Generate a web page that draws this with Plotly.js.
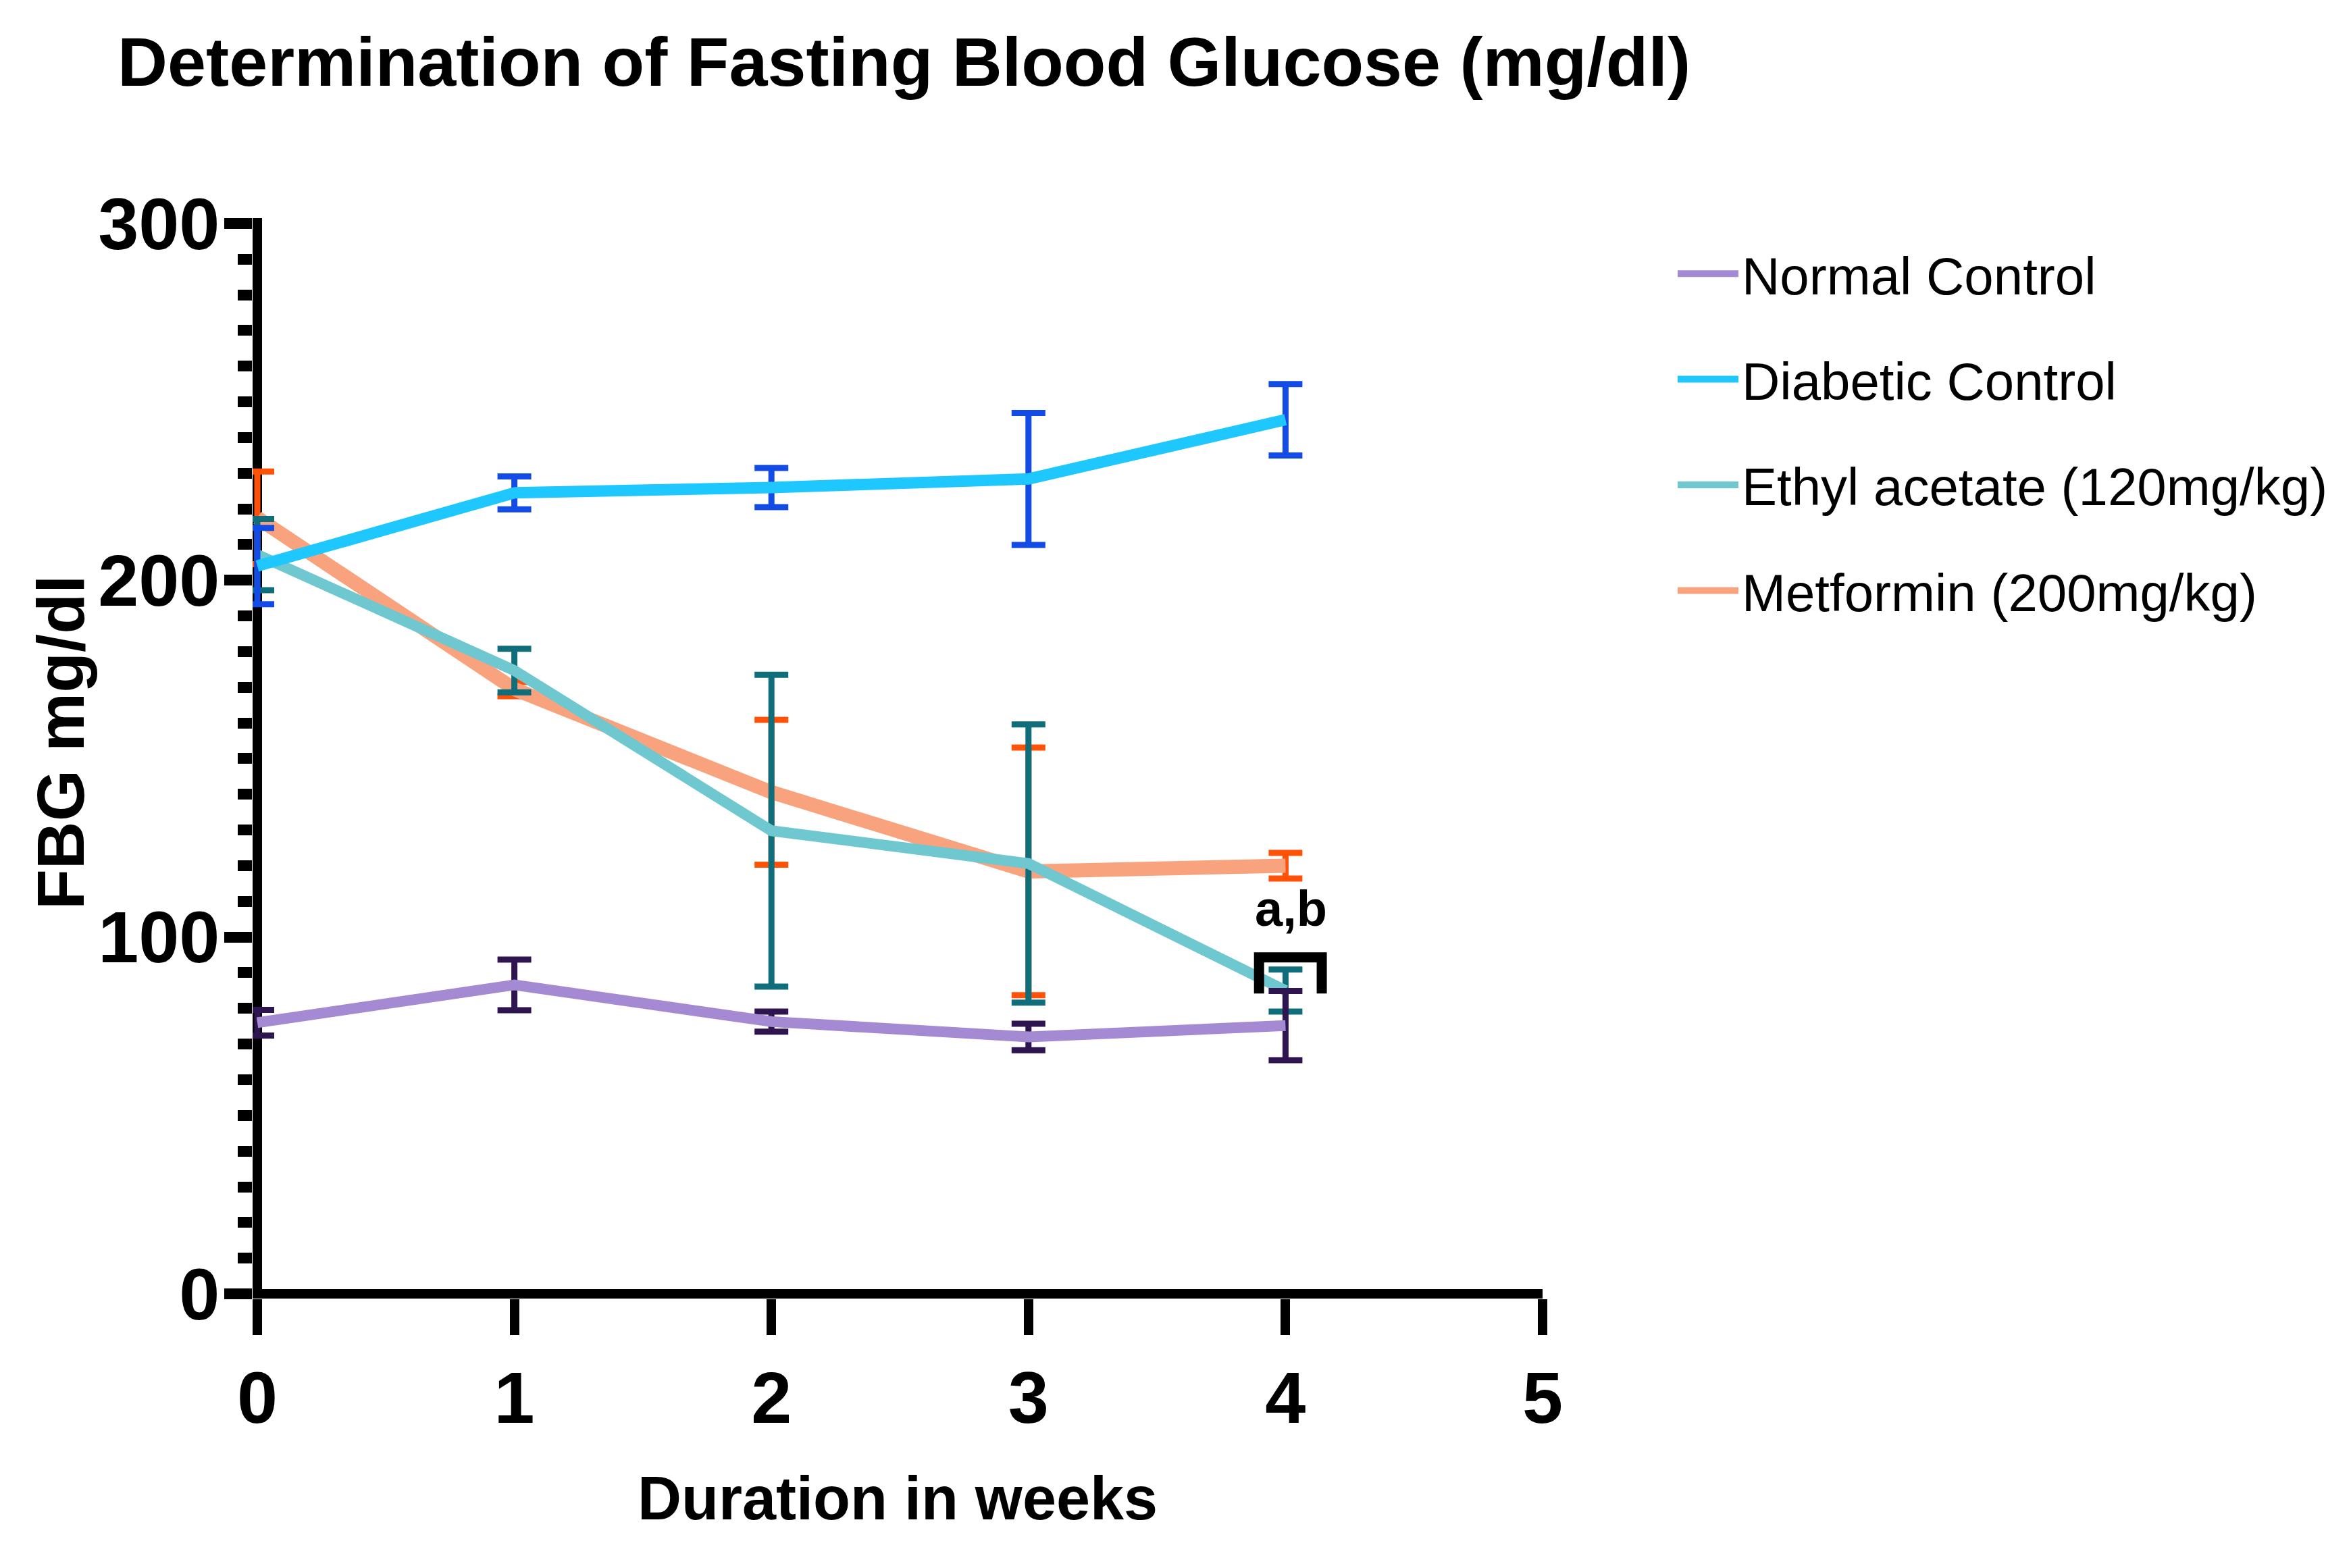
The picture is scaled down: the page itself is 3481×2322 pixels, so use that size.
<!DOCTYPE html>
<html>
<head>
<meta charset="utf-8">
<script src="https://cdn.plot.ly/plotly-3.0.1.min.js"></script>
<style>html,body{margin:0;padding:0;background:#fff;}#chart{width:3481px;height:2322px;}</style>
</head>
<body>
<div id="chart"></div>
<script>
// ---- data ----
const weeks = [0, 1, 2, 3, 4];
const seriesNames = ["Normal Control", "Diabetic Control", "Ethyl acetate (120mg/kg)", "Metformin (200mg/kg)"];
const normalMean = [76, 86.6, 76.3, 72, 75.2];
const normalErr = [3.6, 7.1, 2.8, 3.7, 9.7];
const diabeticMean = [204, 224.5, 226, 228.4, 245];
const diabeticErr = [10.7, 4.6, 5.5, 18.5, 10];
const ethylMean = [207.2, 174.7, 129.8, 120.6, 85];
const ethylErr = [10, 6.1, 43.7, 39, 5.9];
const metforminMean = [217.5, 169.5, 140.6, 118.4, 120];
const metforminErr = [13, 2, 20.3, 34.7, 3.6];
const xTickVals = [0, 1, 2, 3, 4, 5];
const yTickVals = [0, 100, 200, 300];
const sigLabel = "a,b";

const SANS = "'Liberation Sans', Arial, Helvetica, sans-serif";

function mk(name, rank, y, err, lineColor, errColor, width) {
  return {
    x: weeks, y: y, name: name, type: 'scatter', mode: 'lines',
    line: {color: lineColor, width: width},
    error_y: {type: 'data', array: err, visible: true, color: errColor, thickness: 9, width: 25},
    cliponaxis: false, legendgroup: name, legendrank: rank, hoverinfo: 'skip'
  };
}

// drawn bottom-to-top: Metformin, Ethyl acetate, Diabetic, Normal
const traces = [
  mk(seriesNames[3], 4, metforminMean, metforminErr, '#F9A37E', '#FF5208', 21),
  mk(seriesNames[2], 3, ethylMean, ethylErr, '#6FC8CF', '#0F6E7A', 16),
  mk(seriesNames[1], 2, diabeticMean, diabeticErr, '#1FC7FF', '#134BE6', 17),
  mk(seriesNames[0], 1, normalMean, normalErr, '#A48AD2', '#2E1550', 16)
];

const layout = {
  width: 3481, height: 2322,
  paper_bgcolor: '#fff', plot_bgcolor: '#fff',
  margin: {l: 374, r: 1197, t: 323, b: 399, pad: 0},
  showlegend: true,
  title: {
    text: 'Determination of Fasting Blood Glucose (mg/dl)',
    font: {family: SANS, size: 102.5, color: '#000', weight: 'bold'},
    xref: 'container', x: 174 / 3481, xanchor: 'left',
    yref: 'container', y: 1 - 55 / 2322, yanchor: 'top'
  },
  xaxis: {
    range: [-0.0184, 5], showgrid: false, showline: false,
    zeroline: true, zerolinecolor: '#000', zerolinewidth: 14,
    tickmode: 'array', tickvals: xTickVals, ticktext: xTickVals.map(String),
    ticks: 'outside', ticklen: 53, tickwidth: 14, tickcolor: '#000',
    tickfont: {family: SANS, size: 108, color: '#000', weight: 'bold'},
    title: {text: 'Duration in weeks', font: {family: SANS, size: 90, color: '#000', weight: 'bold'}, standoff: 58},
    fixedrange: true
  },
  yaxis: {
    range: [-1.325, 301.51], showgrid: false, showline: false,
    zeroline: true, zerolinecolor: '#000', zerolinewidth: 14,
    tickmode: 'array', tickvals: yTickVals, ticktext: yTickVals.map(String),
    ticks: 'outside', ticklen: 41, tickwidth: 16, tickcolor: '#000',
    ticklabelstandoff: -15,
    minor: {dtick: 10, tick0: 0, ticks: 'outside', ticklen: 21, tickwidth: 16, tickcolor: '#000', showgrid: false},
    tickfont: {family: SANS, size: 108, color: '#000', weight: 'bold'},
    fixedrange: true
  },
  legend: {
    traceorder: 'grouped', tracegroupgap: 52,
    xref: 'container', yref: 'container', x: 2479 / 3481, y: 1 - 348 / 2322,
    xanchor: 'left', yanchor: 'top',
    font: {family: SANS, size: 78, color: '#000'},
    bgcolor: 'rgba(0,0,0,0)', borderwidth: 0, itemwidth: 90
  },
  annotations: [
    {text: 'FBG mg/dl', textangle: -90, xref: 'paper', yref: 'paper',
     x: (90 - 374) / (2284 - 374), y: (1923 - 1100) / 1600, xanchor: 'center', yanchor: 'middle',
     showarrow: false, font: {family: SANS, size: 98, color: '#000', weight: 'bold'}},
    {text: sigLabel, xref: 'x', yref: 'y', x: weeks[4] + 0.02, y: 108, xanchor: 'center', yanchor: 'middle',
     showarrow: false, font: {family: SANS, size: 74, color: '#000', weight: 'bold'}}
  ],
  shapes: [
    {type: 'path', xref: 'x', yref: 'y', path: 'M3.897,84.2 L3.897,94.3 L4.141,94.3 L4.141,84.2',
     line: {color: '#000', width: 15}, layer: 'above'}
  ]
};

Plotly.newPlot('chart', traces, layout, {staticPlot: true, displayModeBar: false});
</script>
</body>
</html>
